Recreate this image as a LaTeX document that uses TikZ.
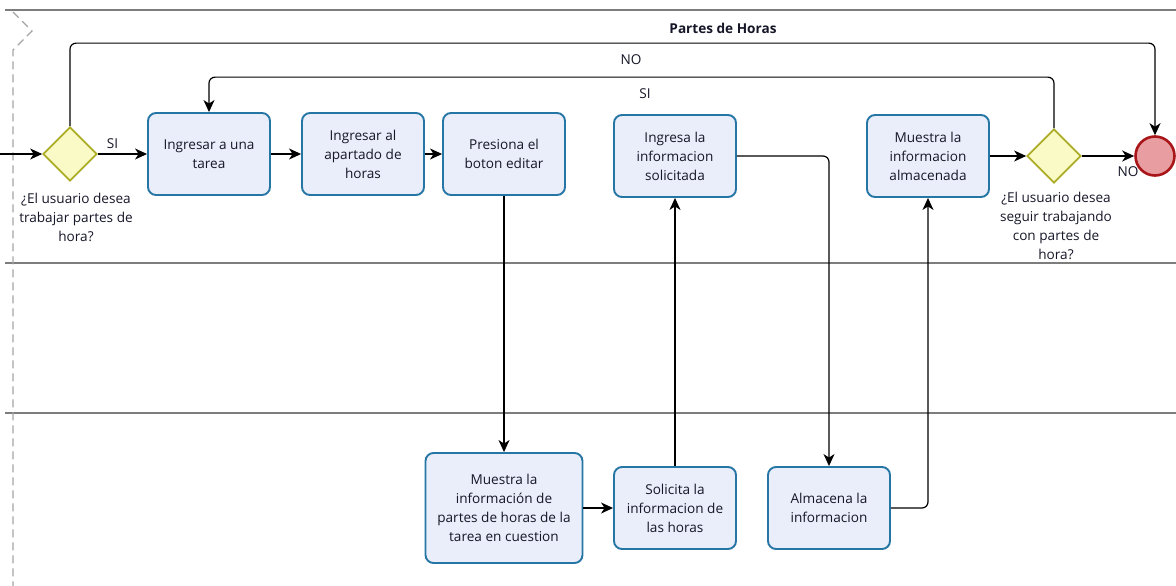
\documentclass[tikz,border=0pt]{standalone}
\usepackage{fontspec}
\setmainfont{Open Sans}
\usepackage{tikz}
\usetikzlibrary{positioning,shapes,arrows,arrows.meta}

\definecolor{taskfill}{RGB}{233,238,250}
\definecolor{taskline}{RGB}{38,118,165}
\definecolor{gatefill}{RGB}{250,250,198}
\definecolor{gateline}{RGB}{172,172,38}
\definecolor{endfill}{RGB}{232,158,160}
\definecolor{endline}{RGB}{168,22,26}
\definecolor{lanecol}{RGB}{125,125,125}
\definecolor{txt}{RGB}{22,22,40}

\begin{document}
\begin{tikzpicture}
            [x=1pt,y=-1pt,>={Stealth[length=12pt,width=11pt,inset=3.5pt]},
             every node/.style={font=\fontsize{13.6}{19}\selectfont, text=txt, inner sep=0pt},
             task/.style={draw=taskline, fill=taskfill, line width=1.9pt, rounded corners=8pt,
                          minimum width=122pt, minimum height=82pt, align=center},
             gate/.style={draw=gateline, fill=gatefill, line width=1.7pt, diamond,
                          minimum width=54pt, minimum height=54pt},
             flow/.style={->, line width=1.2pt, rounded corners=6pt}]
          \useasboundingbox (0,0) rectangle (1176,586);

          % pool and lanes
          \draw[lanecol, line width=1.5pt] (5,10) -- (1176,10);
          \draw[lanecol, line width=1.5pt] (5,263) -- (1176,263);
          \draw[lanecol, line width=1.5pt] (5,413) -- (1176,413);
          \draw[lanecol!70, line width=1.3pt, dash pattern=on 8pt off 5pt] (13,12) -- (32,31) -- (13,50) -- (13,586);
          \node[font=\fontsize{13.6}{19}\selectfont\bfseries] (title) at (723,28) {Partes de Horas};

          % top lane
          \coordinate (start) at (0,154);
          \node[gate] (g1) at (70,154) {};
          \node[task] (t1) at (209,154) {Ingresar a una\\tarea};
          \node[task] (t2) at (363,154) {Ingresar al\\apartado de\\horas};
          \node[task] (t3) at (504,154) {Presiona el\\boton editar};
          \node[task] (t4) at (675,156) {Ingresa la\\informacion\\solicitada};
          \node[task] (t5) at (928,156) {Muestra la\\informacion\\almacenada};
          \node[gate] (g2) at (1054,156) {};
          \node[circle, draw=endline, fill=endfill, line width=2.6pt, minimum size=39pt] (fin) at (1155,156) {};

          \node[align=center] (q1) at (76,217) {¿El usuario desea\\trabajar partes de\\hora?};
          \node[align=center] (q2) at (1056,226) {¿El usuario desea\\seguir trabajando\\con partes de\\hora?};

          % bottom lane
          \node[task, minimum width=157pt, minimum height=110pt] (t6) at (504,508) {Muestra la\\información de\\partes de horas de la\\tarea en cuestion};
          \node[task] (t7) at (675,508) {Solicita la\\informacion de\\las horas};
          \node[task] (t8) at (829,508) {Almacena la\\informacion};

          \foreach \from/\to in {start/g1, t1/t2, t2/t3, t3/t6, t6/t7, t7/t4, t5/g2, g2/fin}
            \draw[flow] (\from) -- (\to);

          \draw[flow] (g1) -- node[pos=.3, above=5pt] (si1) {SI} (t1);
          \draw[flow] (t4.east) -| (t8.north);
          \draw[flow] (t8.east) -| (t5.south);
          \draw[flow] (g2.north) -- ++(0,-51) -| (t1.north);
          \draw[flow] (g1.north) -- ++(0,-83) -| (fin.north);

          \node (no1) at (631,60) {NO};
          \node (si2) at (645,94) {SI};
          \node (no2) at (1128,172) {NO};
        \end{tikzpicture}
\end{document}
